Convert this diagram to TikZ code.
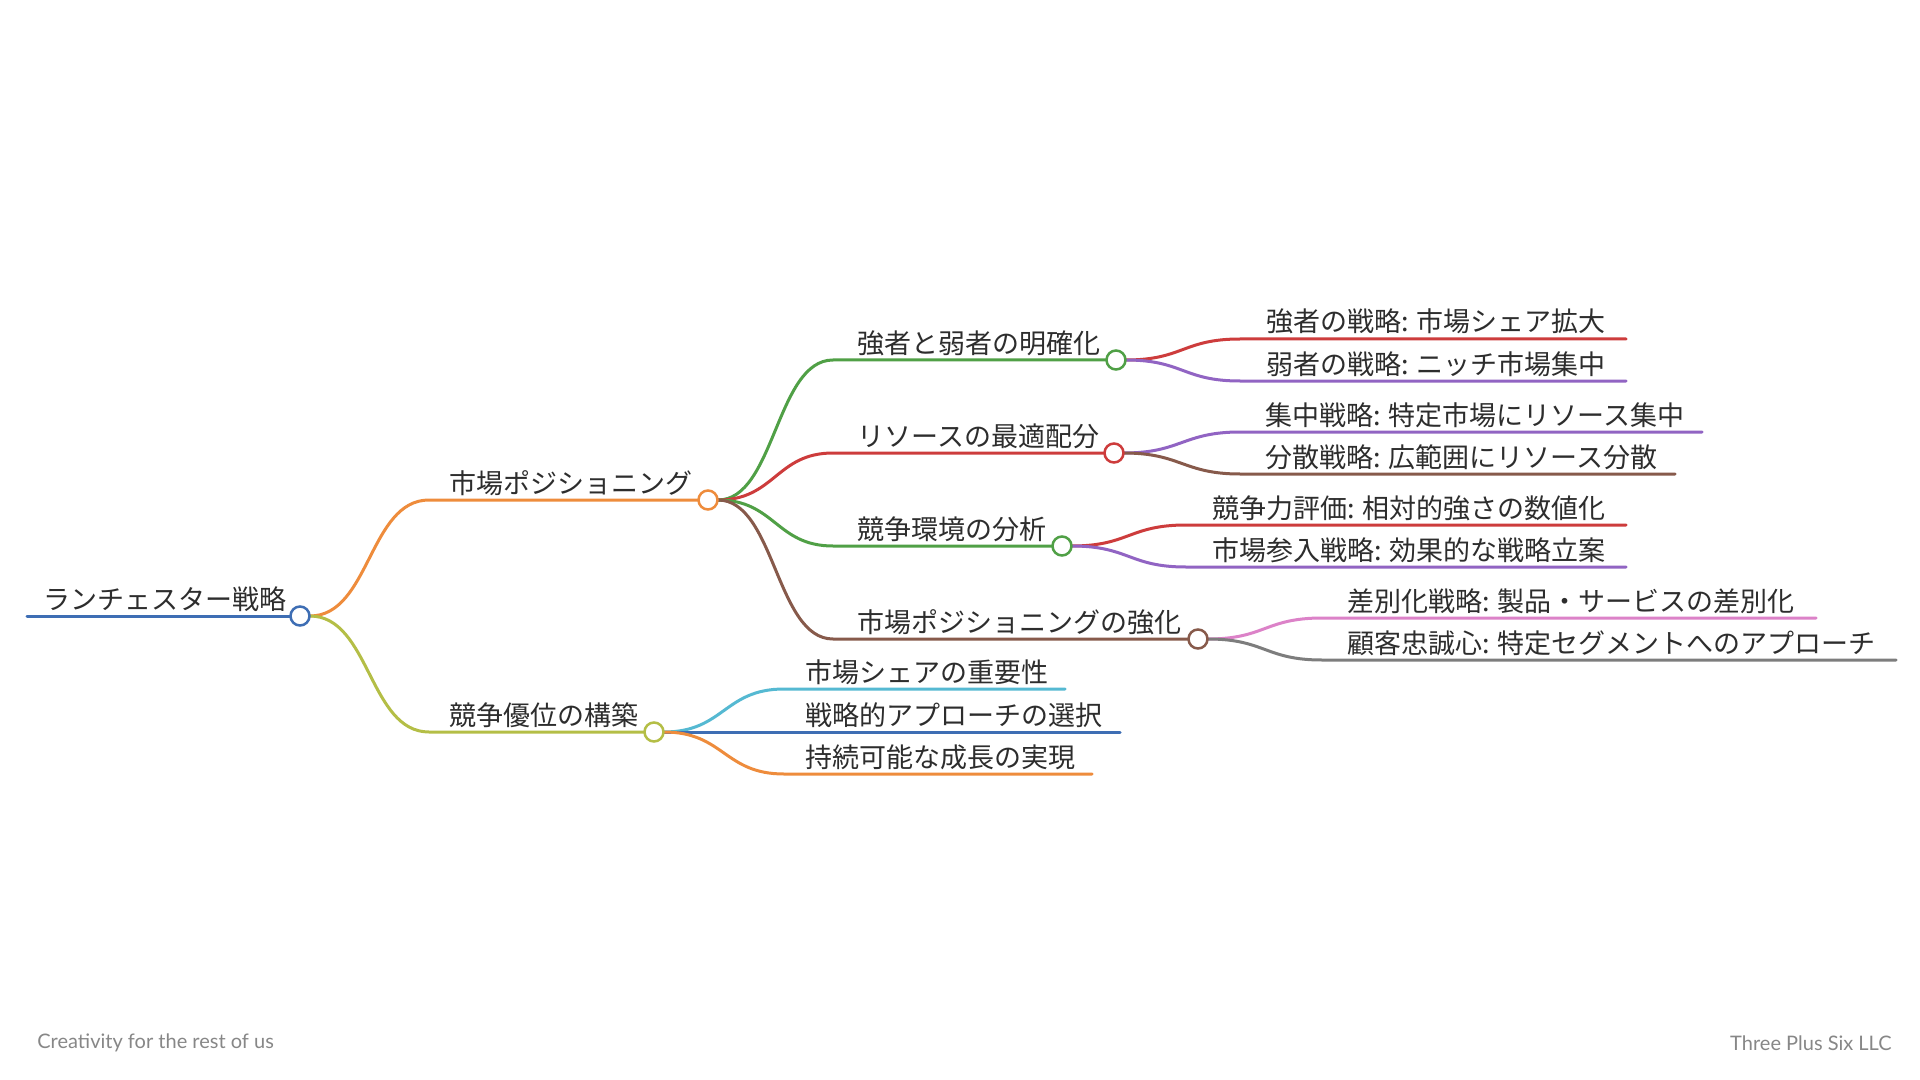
\documentclass[tikz,border=0pt]{standalone}
\usepackage{fontspec}
\newfontfamily\jp{Noto Sans CJK JP}
\newfontfamily\footfont{Lato}
\definecolor{cblue}{RGB}{62,110,180}
\definecolor{corange}{RGB}{238,140,60}
\definecolor{cyg}{RGB}{180,190,70}
\definecolor{cgreen}{RGB}{80,160,70}
\definecolor{cred}{RGB}{205,60,60}
\definecolor{cpurple}{RGB}{145,100,195}
\definecolor{cbrown}{RGB}{135,90,75}
\definecolor{cpink}{RGB}{220,130,200}
\definecolor{cgray}{RGB}{125,125,125}
\definecolor{ccyan}{RGB}{85,185,210}
\definecolor{ctext}{RGB}{45,45,45}
\definecolor{cfoot}{RGB}{135,135,135}
\begin{document}
\begin{tikzpicture}[x=0.5pt,y=-0.5pt,
  lbl/.style={font=\jp\fontsize{13.5}{16}\selectfont, text=ctext, inner sep=0pt, anchor=base west},
  hubspot/.style={circle, minimum size=9.5pt, inner sep=0pt},
  hub/.style={hubspot, draw=#1, fill=white, line width=1.25pt},
  link/.style={draw=#1, line width=1.5pt, line cap=round},
  foot/.style={font=\footfont\fontsize{10}{12}\selectfont, text=cfoot, inner sep=0pt}]
\useasboundingbox (0,0) rectangle (1920,1080);
\fill[white] (0,0) rectangle (1920,1080);

% ---- coordinates of line starts / ends
\coordinate (rs) at (27,616);
\coordinate (As) at (429,500);
\coordinate (Bs) at (429,732);
\coordinate (as) at (833,360);
\coordinate (bs) at (833,453);
\coordinate (cs) at (833,546);
\coordinate (ds) at (833,639);
\coordinate (a1s) at (1240,339); \coordinate (a1e) at (1626,339);
\coordinate (a2s) at (1240,381); \coordinate (a2e) at (1626,381);
\coordinate (b1s) at (1240,432); \coordinate (b1e) at (1702,432);
\coordinate (b2s) at (1240,474); \coordinate (b2e) at (1675,474);
\coordinate (c1s) at (1186,525); \coordinate (c1e) at (1626,525);
\coordinate (c2s) at (1186,567); \coordinate (c2e) at (1626,567);
\coordinate (d1s) at (1322,618); \coordinate (d1e) at (1816,618);
\coordinate (d2s) at (1322,660); \coordinate (d2e) at (1896,660);
\coordinate (e1s) at (784,689); \coordinate (e1e) at (1065,689);
\coordinate (e2s) at (784,732); \coordinate (e2e) at (1120,732);
\coordinate (e3s) at (784,774); \coordinate (e3e) at (1092,774);

% ---- hub positions (invisible, for anchors)
\node[hubspot] (R) at (300,616) {};
\node[hubspot] (A) at (708,500) {};
\node[hubspot] (B) at (654,732) {};
\node[hubspot] (a) at (1116,360) {};
\node[hubspot] (b) at (1114,453) {};
\node[hubspot] (c) at (1062,546) {};
\node[hubspot] (d) at (1198,639) {};

% ---- underlines and connectors
\path[link=cblue] (rs) -- (R.west);
\path[link=corange] (R.east) .. controls +(60,0) and +(-60,0) .. (As) -- (A.west);
\path[link=cyg] (R.east) .. controls +(60,0) and +(-60,0) .. (Bs) -- (B.west);
\path[link=cgreen] (A.east) .. controls +(57,0) and +(-57,0) .. (as) -- (a.west);
\path[link=cred] (A.east) .. controls +(57,0) and +(-57,0) .. (bs) -- (b.west);
\path[link=cgreen] (A.east) .. controls +(57,0) and +(-57,0) .. (cs) -- (c.west);
\path[link=cbrown] (A.east) .. controls +(57,0) and +(-57,0) .. (ds) -- (d.west);
\path[link=cred] (a.east) .. controls +(57,0) and +(-57,0) .. (a1s) -- (a1e);
\path[link=cpurple] (a.east) .. controls +(57,0) and +(-57,0) .. (a2s) -- (a2e);
\path[link=cpurple] (b.east) .. controls +(57,0) and +(-57,0) .. (b1s) -- (b1e);
\path[link=cbrown] (b.east) .. controls +(57,0) and +(-57,0) .. (b2s) -- (b2e);
\path[link=cred] (c.east) .. controls +(57,0) and +(-57,0) .. (c1s) -- (c1e);
\path[link=cpurple] (c.east) .. controls +(57,0) and +(-57,0) .. (c2s) -- (c2e);
\path[link=cpink] (d.east) .. controls +(57,0) and +(-57,0) .. (d1s) -- (d1e);
\path[link=cgray] (d.east) .. controls +(57,0) and +(-57,0) .. (d2s) -- (d2e);
\path[link=ccyan] (B.east) .. controls +(60,0) and +(-60,0) .. (e1s) -- (e1e);
\path[link=cblue] (B.east) .. controls +(60,0) and +(-60,0) .. (e2s) -- (e2e);
\path[link=corange] (B.east) .. controls +(60,0) and +(-60,0) .. (e3s) -- (e3e);

% ---- visible hubs on top of the lines
\node[hub=cblue] at (R) {};
\node[hub=corange] at (A) {};
\node[hub=cyg] at (B) {};
\node[hub=cgreen] at (a) {};
\node[hub=cred] at (b) {};
\node[hub=cgreen] at (c) {};
\node[hub=cbrown] at (d) {};

% ---- labels
\node[lbl] (tR) at (43,609) {ランチェスター戦略};
\node[lbl] (tA) at (449,493) {市場ポジショニング};
\node[lbl] (tB) at (449,725) {競争優位の構築};
\node[lbl] (ta) at (857,353) {強者と弱者の明確化};
\node[lbl] (tb) at (857,446) {リソースの最適配分};
\node[lbl] (tc) at (857,539) {競争環境の分析};
\node[lbl] (td) at (857,632) {市場ポジショニングの強化};
\node[lbl] (ta1) at (1266,332) {強者の戦略: 市場シェア拡大};
\node[lbl] (ta2) at (1266,374) {弱者の戦略: ニッチ市場集中};
\node[lbl] (tb1) at (1265,425) {集中戦略: 特定市場にリソース集中};
\node[lbl] (tb2) at (1265,467) {分散戦略: 広範囲にリソース分散};
\node[lbl] (tc1) at (1212,518) {競争力評価: 相対的強さの数値化};
\node[lbl] (tc2) at (1212,560) {市場参入戦略: 効果的な戦略立案};
\node[lbl] (td1) at (1347,611) {差別化戦略: 製品・サービスの差別化};
\node[lbl] (td2) at (1347,653) {顧客忠誠心: 特定セグメントへのアプローチ};
\node[lbl] (te1) at (805,682) {市場シェアの重要性};
\node[lbl] (te2) at (805,725) {戦略的アプローチの選択};
\node[lbl] (te3) at (805,767) {持続可能な成長の実現};

% ---- footer
\node[foot, anchor=west] (fl) at (37,1043) {Creativity for the rest of us};
\node[foot, anchor=east] (fr) at (1892,1043) {Three Plus Six LLC};
\end{tikzpicture}
\end{document}
